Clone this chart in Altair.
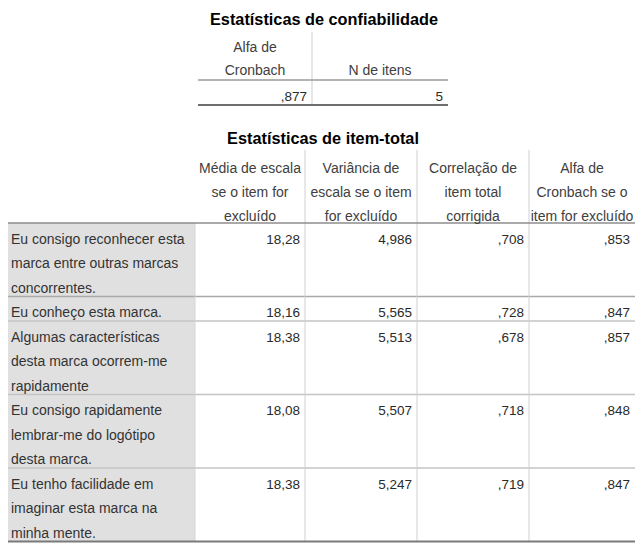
import altair as alt
import pandas as pd

# ---------------- data ----------------
title_top = "Estatísticas de confiabilidade"
title_items = "Estatísticas de item-total"

top_headers = [["Alfa de", "Cronbach"], ["N de itens"]]
top_values = [",877", "5"]

item_headers = [
    ["Média de escala", "se o item for", "excluído"],
    ["Variância de", "escala se o item", "for excluído"],
    ["Correlação de", "item total", "corrigida"],
    ["Alfa de", "Cronbach se o", "item for excluído"],
]
item_labels = [
    ["Eu consigo reconhecer esta", "marca entre outras marcas", "concorrentes."],
    ["Eu conheço esta marca."],
    ["Algumas características", "desta marca ocorrem-me", "rapidamente"],
    ["Eu consigo rapidamente", "lembrar-me do logótipo", "desta marca."],
    ["Eu tenho facilidade em", "imaginar esta marca na", "minha mente."],
]
scale_mean = ["18,28", "18,16", "18,38", "18,08", "18,38"]
scale_var = ["4,986", "5,565", "5,513", "5,507", "5,247"]
item_corr = [",708", ",728", ",678", ",718", ",719"]
alpha_del = [",853", ",847", ",857", ",848", ",847"]

# ---------------- layout ----------------
FONT = "Liberation Sans"
LH = 24.5
# top table
t_edges = [198, 312, 448]
t_title_y = 20
t_head_top = 32
t_head_line = 80
t_bottom = 105
# item table
i_left = 8
i_edges = [195, 305, 417, 529, 635]
i_title_y = 139
i_head_top = 150
i_head_line = 223

texts_c, texts_r, texts_l, titles = [], [], [], []
rules = []
rects = []

titles.append({"x": 324, "y": t_title_y, "t": title_top})
titles.append({"x": 323, "y": i_title_y, "t": title_items})

# top table headers (bottom aligned)
for c, lines in enumerate(top_headers):
    cx = (t_edges[c] + t_edges[c + 1]) / 2
    n = len(lines)
    for k, s in enumerate(lines):
        y = t_head_line - 9 - (n - 1 - k) * 23
        texts_c.append({"x": cx, "y": y, "t": s})
for c, v in enumerate(top_values):
    texts_r.append({"x": t_edges[c + 1] - 5, "y": 97, "t": v})
rules.append({"x": t_edges[1], "x2": t_edges[1], "y": t_head_top, "y2": t_bottom, "c": "#cfcfcf", "w": 1})
rules.append({"x": t_edges[0], "x2": t_edges[2], "y": t_head_line, "y2": t_head_line, "c": "#9a9a9a", "w": 1.5})
rules.append({"x": t_edges[0], "x2": t_edges[2], "y": t_bottom, "y2": t_bottom, "c": "#6e6e6e", "w": 2})

# item table headers
for c, lines in enumerate(item_headers):
    cx = (i_edges[c] + i_edges[c + 1]) / 2
    for k, s in enumerate(lines):
        texts_c.append({"x": cx, "y": i_head_top + 18.5 + k * 24, "t": s})

# rows
top = i_head_line
row_tops = []
cols = [scale_mean, scale_var, item_corr, alpha_del]
for r, lines in enumerate(item_labels):
    h = len(lines) * LH
    row_tops.append(top)
    for k, s in enumerate(lines):
        texts_l.append({"x": 11, "y": top + 16.5 + k * LH, "t": s})
    for c, col in enumerate(cols):
        texts_r.append({"x": i_edges[c + 1] - 5, "y": top + 16.5, "t": col[r]})
    top += h
i_bottom = top

rects.append({"x": i_left, "x2": i_edges[0], "y": i_head_line, "y2": i_bottom})

for j, rt in enumerate(row_tops[1:]):
    rules.append({"x": i_left, "x2": i_edges[-1], "y": rt, "y2": rt,
                  "c": "#a8a8a8" if j == 0 else "#c4c4c4", "w": 1.5})
for e in i_edges[1:-1]:
    rules.append({"x": e, "x2": e, "y": i_head_top, "y2": i_bottom, "c": "#d0d0d0", "w": 1})
rules.append({"x": i_edges[0], "x2": i_edges[0], "y": i_head_line, "y2": i_bottom, "c": "#d6d6d6", "w": 1})
rules.append({"x": i_left, "x2": i_edges[-1], "y": i_head_line, "y2": i_head_line, "c": "#8c8c8c", "w": 1.5})
rules.append({"x": i_left, "x2": i_edges[-1], "y": i_bottom, "y2": i_bottom, "c": "#7a7a7a", "w": 2})

# ---------------- chart ----------------
W, H = 627, 539
xs = alt.Scale(domain=[8, 8 + W], range=[0, W], nice=False, zero=False)
ys = alt.Scale(domain=[8, 8 + H], range=[0, H], nice=False, zero=False)
X = lambda f: alt.X(f, type="quantitative", scale=xs, axis=None)
Y = lambda f: alt.Y(f, type="quantitative", scale=ys, axis=None)

bg = alt.Chart(pd.DataFrame(rects)).mark_rect(color="#e0e0e0").encode(
    x=X("x"), x2="x2", y=Y("y"), y2="y2")

lines = alt.Chart(pd.DataFrame(rules)).mark_rule().encode(
    x=X("x"), x2="x2", y=Y("y"), y2="y2",
    color=alt.Color("c:N", scale=None),
    strokeWidth=alt.StrokeWidth("w:Q", scale=None))

def txt(rows, align, color="#333333", size=13, weight="normal"):
    return alt.Chart(pd.DataFrame(rows)).mark_text(
        align=align, baseline="middle", font=FONT, fontSize=size,
        fontWeight=weight, color=color).encode(x=X("x"), y=Y("y"), text="t:N")

chart = alt.layer(
    bg, lines,
    txt(titles, "center", color="#000000", size=16.3, weight="bold"),
    txt(texts_c, "center", color="#404040", size=14),
    txt(texts_r, "right", color="#2a2a2a", size=13.5),
    txt(texts_l, "left", color="#333333", size=14),
).properties(width=W, height=H, padding=0, autosize="none").configure_view(stroke=None)

chart.save("out.html", embed_options={"renderer": "svg", "actions": False})
